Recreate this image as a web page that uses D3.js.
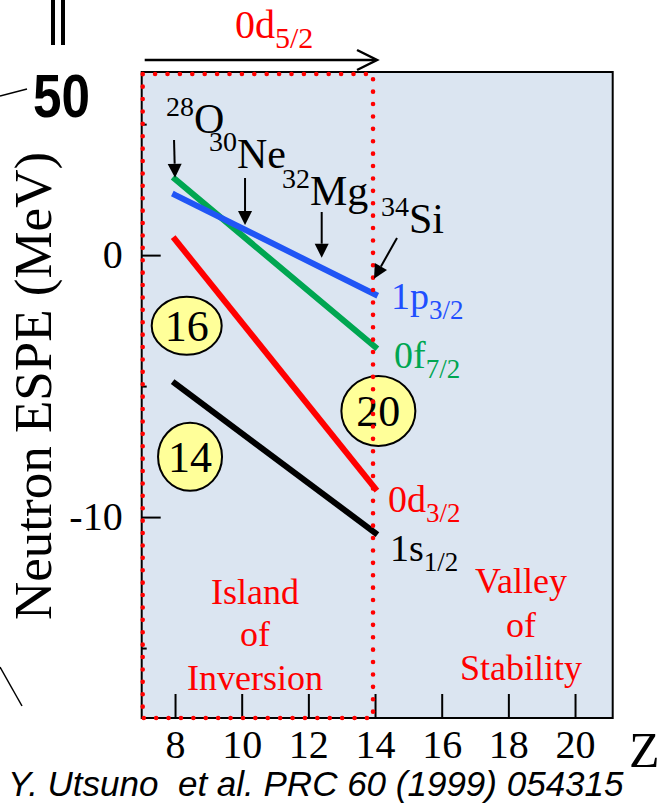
<!DOCTYPE html>
<html><head><meta charset="utf-8">
<script src="https://cdn.jsdelivr.net/npm/d3@7"></script>
<style>
html,body{margin:0;padding:0;background:#fff;}
svg{display:block;}
</style>
</head><body>
<svg id="c" width="663" height="804"></svg>
<script>
// ---- data ----
const Z = [8, 14];
const s12 = [-4.9, -10.6];   // 1s1/2 (black)
const d32 = [0.6, -8.9];     // 0d3/2 (red)
const f72 = [2.9, -3.5];     // 0f7/2 (green)
const p32 = [2.3, -1.5];     // 1p3/2 (blue)
const xTicks = [8, 10, 12, 14, 16, 18, 20];
const yMajor = [0, -10];
const yMinor = [5, -5, -15];
const nuclei = [
  {mass: "28", el: "O",  z: 8,    tip: 2.95},
  {mass: "30", el: "Ne", z: 10.1, tip: 1.15},
  {mass: "32", el: "Mg", z: 12.4, tip: -0.1},
  {mass: "34", el: "Si", z: 14,   tip: -0.9}
];
const gaps = ["16", "20", "14"];

// ---- scales ----
const svg = d3.select("#c");
const x = d3.scaleLinear().domain([7, 21.13]).range([141.7, 612.7]);
const y = d3.scaleLinear().domain([-17.67, 6.99]).range([718, 72]);
const serif = "'Liberation Serif','Times New Roman',serif";
const sans = "'Liberation Sans',Arial,sans-serif";

// frame background
svg.append("rect").attr("x", x(7)).attr("y", y(6.99))
  .attr("width", x(21.13) - x(7)).attr("height", y(-17.67) - y(6.99))
  .attr("fill", "#dbe5f1").attr("stroke", "#000").attr("stroke-width", 2);

// axes
const gx = svg.append("g").attr("transform", `translate(0,${y(-17.67)})`)
  .call(d3.axisBottom(x).tickValues(xTicks).tickSize(-24).tickPadding(12).tickFormat(d3.format("d")));
gx.select(".domain").remove();
gx.selectAll("line").attr("stroke", "#000").attr("stroke-width", 2);
gx.selectAll("text").attr("font-family", serif).attr("font-size", 40).attr("fill", "#000");

const gy = svg.append("g").attr("transform", `translate(${x(7)},0)`)
  .call(d3.axisLeft(y).tickValues(yMajor).tickSize(-19).tickPadding(19).tickFormat(d => d === 0 ? "0" : "-" + Math.abs(d)));
gy.select(".domain").remove();
gy.selectAll("line").attr("stroke", "#000").attr("stroke-width", 2);
gy.selectAll("text").attr("font-family", serif).attr("font-size", 40).attr("fill", "#000");

const gy2 = svg.append("g").attr("transform", `translate(${x(7)},0)`)
  .call(d3.axisLeft(y).tickValues(yMinor).tickSize(-5).tickFormat(""));
gy2.select(".domain").remove();
gy2.selectAll("line").attr("stroke", "#000").attr("stroke-width", 2);

// level lines
const series = [
  {v: s12, c: "#000000"},
  {v: d32, c: "#ff0000"},
  {v: f72, c: "#00a651"},
  {v: p32, c: "#2155f5"}
];
const line = d3.line().x((d, i) => x(Z[i])).y(d => y(d));
series.forEach(s => {
  svg.append("path").attr("d", line(s.v)).attr("fill", "none")
    .attr("stroke", s.c).attr("stroke-width", 6).attr("stroke-linecap", "square");
});

// yellow gap ellipses
const ell = [
  {t: gaps[0], cx: x(8.35), cy: y(-2.7), rx: 35, ry: 29},
  {t: gaps[1], cx: x(14.1), cy: y(-5.95), rx: 37, ry: 35},
  {t: gaps[2], cx: x(8.45), cy: y(-7.7), rx: 32, ry: 34}
];
ell.forEach(e => {
  svg.append("ellipse").attr("cx", e.cx).attr("cy", e.cy).attr("rx", e.rx).attr("ry", e.ry)
    .attr("fill", "#ffff99").attr("stroke", "#000").attr("stroke-width", 2);
  svg.append("text").attr("x", e.cx).attr("y", e.cy + 15).attr("text-anchor", "middle")
    .attr("font-family", serif).attr("font-size", 44).attr("fill", "#000").text(e.t);
});

// red dotted island box
svg.append("rect").attr("x", x(7) + 1).attr("y", y(6.99) + 2)
  .attr("width", x(14) - 2 - x(7) - 1).attr("height", y(-17.67) - y(6.99) - 2)
  .attr("fill", "none").attr("stroke", "#ff0000").attr("stroke-width", 4.6)
  .attr("stroke-dasharray", "0 12.4").attr("stroke-linecap", "round");

// level labels
function subLabel(px, py, main, sub, col, fs, sfs, dy) {
  const t = svg.append("text").attr("x", px).attr("y", py).attr("font-family", serif).attr("fill", col);
  t.append("tspan").attr("font-size", fs).text(main);
  t.append("tspan").attr("font-size", sfs).attr("dy", dy).text(sub);
}
subLabel(391, 309, "1p", "3/2", "#1f4fff", 38, 27, 10);
subLabel(394, 368, "0f", "7/2", "#00a651", 38, 27, 10);
subLabel(388, 512, "0d", "3/2", "#ff0000", 38, 27, 10);
subLabel(390, 561, "1s", "1/2", "#000000", 38, 27, 10);

// top 0d5/2 label + arrow
subLabel(235, 38, "0d", "5/2", "#ff0000", 40, 30, 10);
svg.append("line").attr("x1", x(7) + 3).attr("x2", x(14) + 1).attr("y1", 60).attr("y2", 60)
  .attr("stroke", "#000").attr("stroke-width", 2.5);
svg.append("path").attr("d", `M${x(14) - 18},50 L${x(14) + 2},60 L${x(14) - 18},70`)
  .attr("fill", "none").attr("stroke", "#000").attr("stroke-width", 2.5);

// nuclei labels and arrows
const nucPos = [
  {lx: 166, ly: 133, ax1: x(8) - 1, ay1: 140},
  {lx: 209, ly: 168, ax1: x(10.1), ay1: 178},
  {lx: 282, ly: 205, ax1: x(12.4), ay1: 212},
  {lx: 381, ly: 233, ax1: 397, ay1: 238}
];
nuclei.forEach((n, i) => {
  const p = nucPos[i];
  const t = svg.append("text").attr("x", p.lx).attr("y", p.ly).attr("font-family", serif).attr("fill", "#000");
  t.append("tspan").attr("font-size", 28).attr("dy", -17).text(n.mass);
  t.append("tspan").attr("font-size", 42).attr("dy", 17).text(n.el);
  const x2 = x(n.z) - (i === 3 ? 1 : 0), y2 = y(n.tip);
  const ang = Math.atan2(y2 - p.ay1, x2 - p.ax1);
  const L = 14, Wd = 7;
  const bx = x2 - L * Math.cos(ang), by = y2 - L * Math.sin(ang);
  svg.append("line").attr("x1", p.ax1).attr("y1", p.ay1).attr("x2", bx).attr("y2", by)
    .attr("stroke", "#000").attr("stroke-width", 2);
  svg.append("path").attr("d",
    `M${x2},${y2} L${bx + Wd * Math.sin(ang)},${by - Wd * Math.cos(ang)} L${bx - Wd * Math.sin(ang)},${by + Wd * Math.cos(ang)} Z`)
    .attr("fill", "#000");
});

// region labels
function block(cx, lines, ys) {
  lines.forEach((l, i) => svg.append("text").attr("x", cx).attr("y", ys[i]).attr("text-anchor", "middle")
    .attr("font-family", serif).attr("font-size", 36).attr("fill", "#ff0000").text(l));
}
block(255, ["Island", "of", "Inversion"], [604, 646, 690]);
block(521, ["Valley", "of", "Stability"], [593, 637, 680]);

// axis titles
svg.append("text").attr("transform", "translate(51,386) rotate(-90)").attr("text-anchor", "middle")
  .attr("font-family", serif).attr("font-size", 53).attr("fill", "#000").text("Neutron ESPE (MeV)");
svg.append("text").attr("x", 629).attr("y", 767).attr("font-family", serif).attr("font-size", 50)
  .attr("fill", "#000").text("Z");

// citation
svg.append("text").attr("x", 8).attr("y", 796).attr("font-family", sans).attr("font-style", "italic")
  .attr("font-size", 35).attr("fill", "#000").style("white-space", "pre")
  .text("Y. Utsuno  et al. PRC 60 (1999) 054315");

// top-left decorations
svg.append("line").attr("x1", 53).attr("x2", 53).attr("y1", 0).attr("y2", 45).attr("stroke", "#000").attr("stroke-width", 4);
svg.append("line").attr("x1", 63).attr("x2", 63).attr("y1", 0).attr("y2", 45).attr("stroke", "#000").attr("stroke-width", 4);
svg.append("text").attr("x", 33).attr("y", 117).attr("font-family", sans).attr("font-weight", "bold")
  .attr("font-size", 62).attr("textLength", 57).attr("lengthAdjust", "spacingAndGlyphs").attr("fill", "#000").text("50");
svg.append("line").attr("x1", 0).attr("y1", 96).attr("x2", 27).attr("y2", 89).attr("stroke", "#000").attr("stroke-width", 1.5);
svg.append("line").attr("x1", 0).attr("y1", 667).attr("x2", 22).attr("y2", 706).attr("stroke", "#000").attr("stroke-width", 1.5);
</script>
</body></html>
